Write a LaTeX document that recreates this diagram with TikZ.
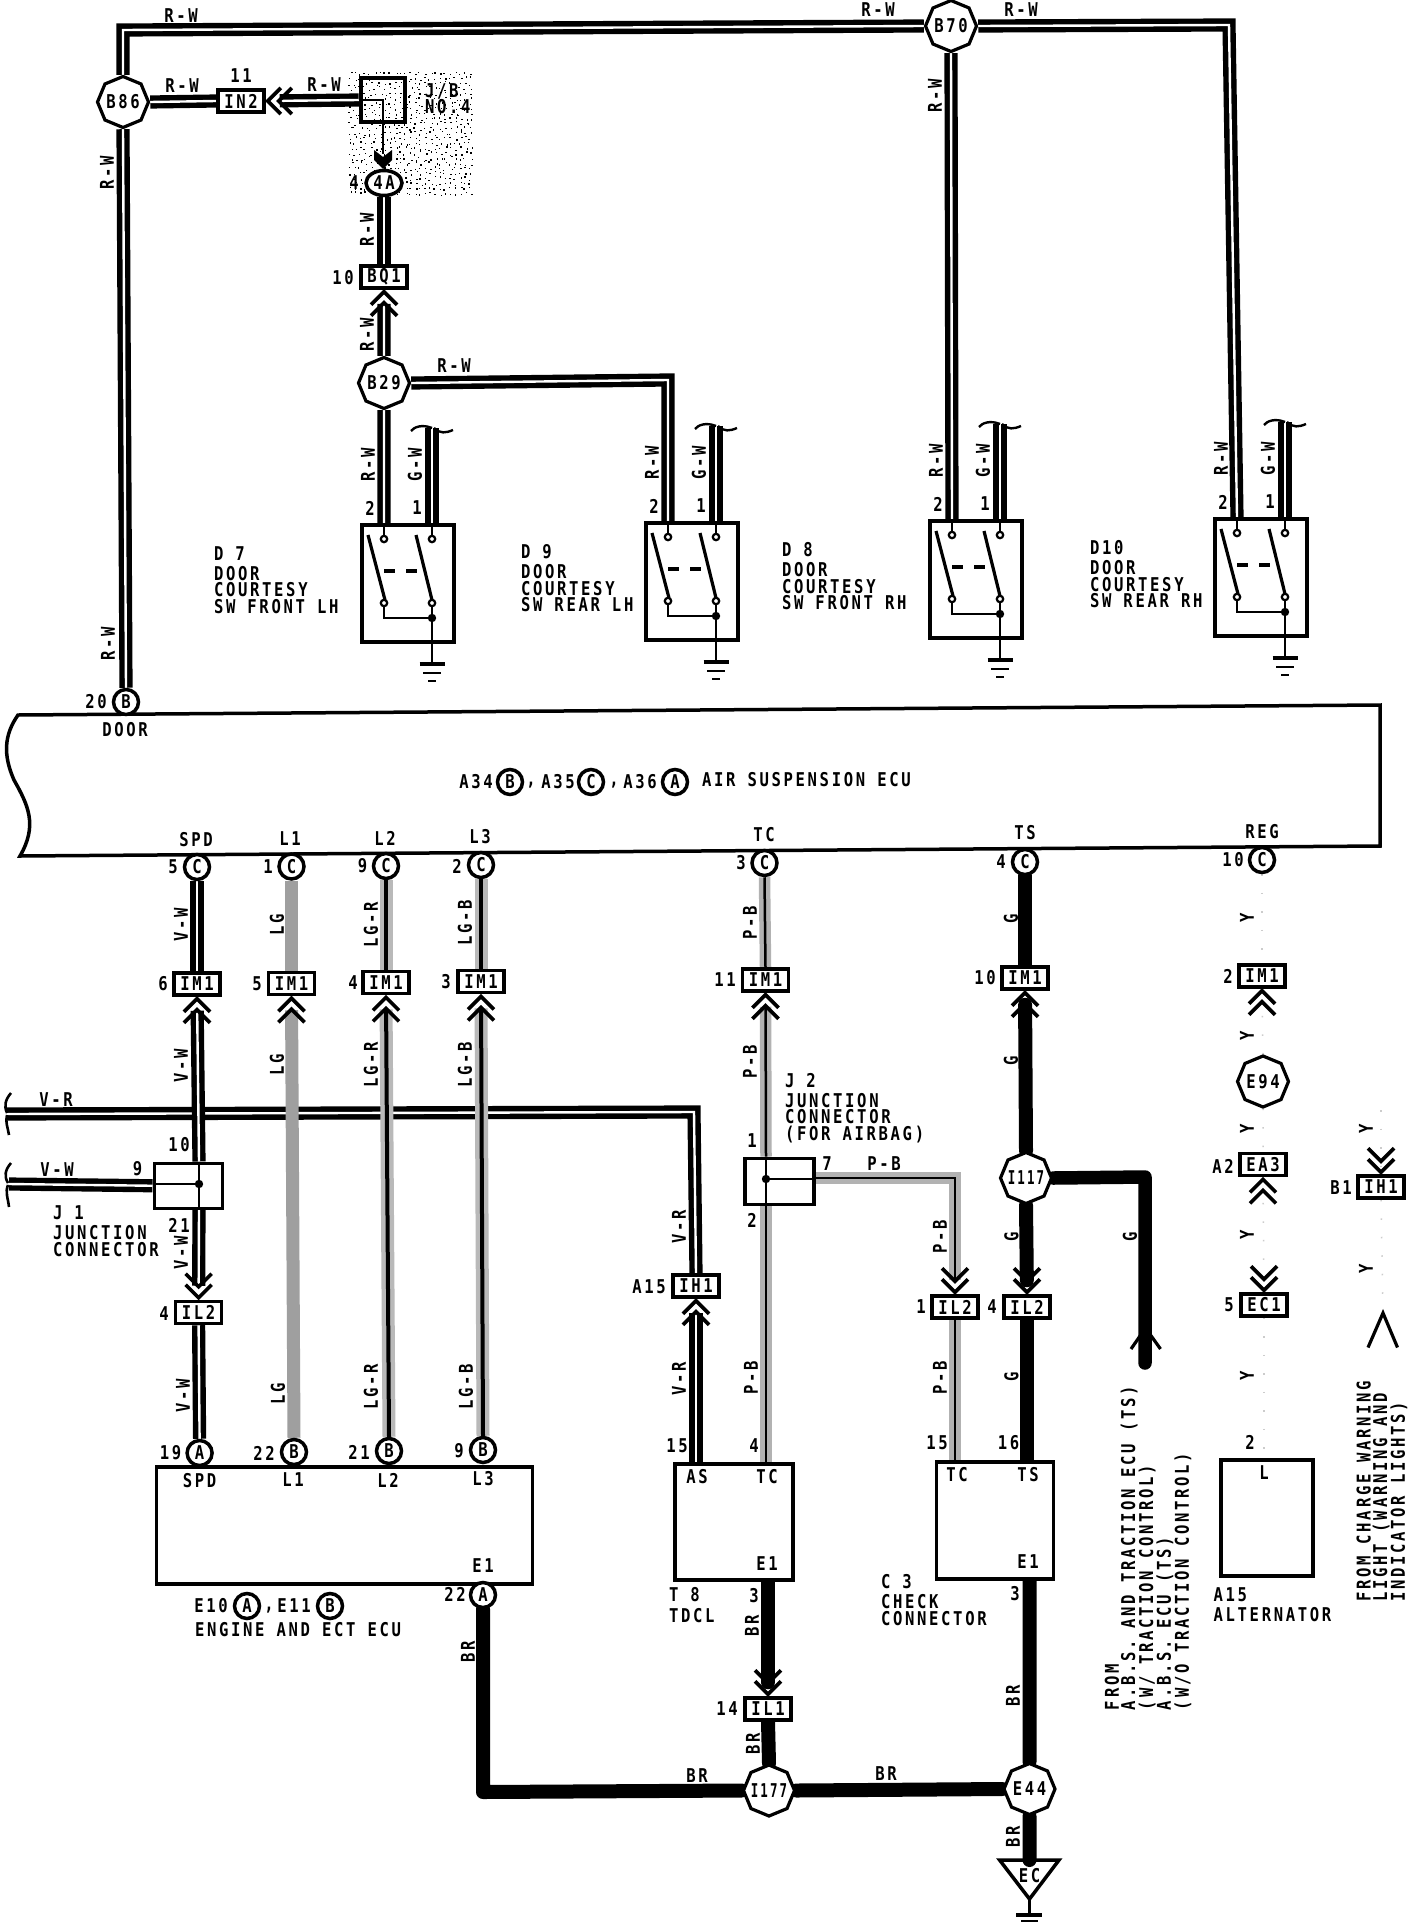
\documentclass[tikz,border=0pt]{standalone}
\usepackage{fontspec}
\setmainfont{DejaVu Sans Mono}[FakeStretch=0.82,LetterSpace=14]
\usetikzlibrary{shapes.geometric,backgrounds}
\newcommand\wdfont{\fontsize{19}{16.3}\selectfont\bfseries}
\newcommand\narrowtxt[1]{\scalebox{0.8}[1]{#1}}
\newcounter{lbl}
\newcommand\HL[3]{\stepcounter{lbl}\node[lab] (t\thelbl) at (#1,#2) {#3};}
\newcommand\VL[3]{\stepcounter{lbl}\node[lab,rotate=90] (t\thelbl) at (#1,#2) {#3};}
% switch: left, top, name
\newcommand\SWITCH[3]{%
 \begin{scope}[shift={(#1,#2)}]
  \node[swbox,anchor=north west] (#3) at (0,0) {};
  \coordinate (#3a) at (24,0);
  \coordinate (#3b) at (72,0);
  \coordinate (#3g) at (72,-95);
  \coordinate (#3j) at (72,95);
  \coordinate (#3e) at (72,141);
  \begin{scope}[on background layer]
   \draw[wire] (#3g) -- (#3b);
  \end{scope}
  \draw[inner] (72,-95) .. controls (62,-99) and (54,-96) .. (51,-92);
  \draw[inner] (74,-95) .. controls (80,-89) and (86,-90) .. (93,-93);
  \draw[inner] (24,0) -- (24,14);
  \draw[inner] (72,0) -- (72,14);
  \draw[blade] (8,12) -- (25,77);
  \draw[blade] (56,12) -- (72,77);
  \draw[blade] (24,48) -- (35,48);
  \draw[blade] (46,48) -- (57,48);
  \draw[inner] (24,82) -- (24,95) -- (#3j);
  \draw[inner] (72,82) -- (#3e);
  \draw[pinc] (24,16) circle (3.2);
  \draw[pinc] (72,16) circle (3.2);
  \draw[pinc] (24,80) circle (3.2);
  \draw[pinc] (72,80) circle (3.2);
  \fill (#3j) circle (4.2);
  \draw[blade] (59.5,141) -- (84.5,141);
  \draw[inner] (63,150) -- (81,150);
  \draw[inner] (68,158) -- (76,158);
  \VL{8}{-58}{R-W}
  \VL{55}{-58}{G-W}
  \HL{10}{-15}{2}
  \HL{57}{-15}{1}
 \end{scope}}
\tikzset{
 x=1pt,y=-1pt,
 lab/.style={font=\wdfont,inner sep=0pt,outer sep=0pt},
 pinbox/.style={draw,line width=3.5,fill=white,minimum width=46,minimum height=22,inner sep=0pt,font=\wdfont},
 conn/.style={circle,draw,line width=3.5,fill=white,minimum size=25,inner sep=-2pt,font=\wdfont},
 octa/.style={regular polygon,regular polygon sides=8,shape border rotate=22.5,draw,fill=white,line width=3.2,minimum size=51,inner sep=-14pt,font=\wdfont},
 swbox/.style={draw,line width=3.5,fill=white,minimum width=92,minimum height=117,inner sep=0pt},
 bigbox/.style={draw,line width=3.5,fill=white,inner sep=0pt,anchor=north west},
 wire/.style={draw=black,double=white,line width=5.4,double distance=2.4},
 lgwire/.style={draw=gray!75,line width=13},
 gwire/.style={draw=gray!55,double=black,line width=4.5,double distance=4},
 pwire/.style={draw=gray!60,double=black,line width=4.5,double distance=2.5},
 fat/.style={draw=black,line width=14,line cap=round},
 ywire/.style={draw=gray!40,line width=1.5,dash pattern=on 1.5 off 17},
 chevline/.style={draw=black,line width=3.6},
 inner/.style={draw=black,line width=2.4},
 blade/.style={draw=black,line width=3.2},
 pinc/.style={draw=black,fill=white,line width=2.2},
 chevu/.pic={\draw[chevline] (-13,15)--(0,2)--(13,15) (-13,26)--(0,13)--(13,26);},
 chevd/.pic={\draw[chevline] (-13,-15)--(0,-2)--(13,-15) (-13,-26)--(0,-13)--(13,-26);},
 chevw/.pic={\draw[chevline] (15,-13)--(2,0)--(15,13) (26,-13)--(13,0)--(26,13);},
}
\begin{document}
\begin{tikzpicture}
\useasboundingbox (0,0) rectangle (1408,1924);
\begin{scope}[on background layer]
 \fill[white] (0,0) rectangle (1408,1924);
 \pgfmathsetseed{7}
 \foreach \i in {0,...,24}{
  \foreach \j in {0,...,24}{
   \pgfmathsetmacro\px{348+\i*5+rnd*4}
   \pgfmathsetmacro\py{71+\j*5+rnd*4}
   \fill[black] (\px,\py) rectangle +(1.3,1.3);
  }
 }
\end{scope}

% ---------- ECU outline
\draw[line width=3.5,fill=white] (18,715) .. controls (4,735) and (3,755) .. (14,780)
  .. controls (28,805) and (38,825) .. (20,856) -- (1380,846) -- (1380,705) -- cycle;

% ---------- splices
\node[octa] (b86) at (123,102) {B86};
\node[octa] (b70) at (951,26) {B70};
\node[octa] (b29) at (384,383) {B29};
\node[octa] (i117) at (1026,1178) {\narrowtxt{I117}};
\node[octa] (e94) at (1263,1081.5) {E94};
\node[octa] (i177) at (769,1790.5) {\narrowtxt{I177}};
\node[octa] (e44) at (1029.5,1789) {E44};

% ---------- top part
\node[pinbox] (in2) at (241,101) {IN2};
\node[draw,line width=4.5,minimum size=44,inner sep=0pt] (jb) at (383,100) {};
\node[ellipse,draw,line width=3.5,fill=white,minimum width=36,minimum height=25,inner sep=-3pt,font=\wdfont] (c4a) at (384,183) {4A};
\node[pinbox] (bq1) at (384,277) {BQ1};

\SWITCH{360}{523}{dseven}
\SWITCH{644}{521}{dnine}
\SWITCH{928}{519}{deight}
\SWITCH{1213}{517}{dten}

% ---------- ECU pins
\node[conn] (cb) at (126,702) {B};
\node[conn] (cspd) at (197,867) {C};
\node[conn] (cl1) at (291.5,866.5) {C};
\node[conn] (cl2) at (386,866) {C};
\node[conn] (cl3) at (481,865) {C};
\node[conn] (ctc) at (764.5,863) {C};
\node[conn] (cts) at (1025,862) {C};
\node[conn] (creg) at (1262,860) {C};
\node[conn] (tb) at (510,782) {B};
\node[conn] (tc) at (591,782) {C};
\node[conn] (ta) at (675,782) {A};

% ---------- IM1 row
\node[pinbox] (imspd) at (197,984) {IM1};
\node[pinbox] (iml1) at (291.5,983.5) {IM1};
\node[pinbox] (iml2) at (386,982.6) {IM1};
\node[pinbox] (iml3) at (481,981.7) {IM1};
\node[pinbox] (imtc) at (765.5,980) {IM1};
\node[pinbox] (imts) at (1025,978) {IM1};
\node[pinbox] (imreg) at (1262,976) {IM1};

% ---------- junction connectors
\node[bigbox,minimum width=68,minimum height=45] (jone) at (152.5,1161.5) {};
\node[bigbox,minimum width=69,minimum height=46] (jtwo) at (743,1156.5) {};
\node[pinbox] (ilj) at (198.6,1312.5) {IL2};
\node[pinbox] (ihaf) at (696,1286) {IH1};
\node[pinbox] (ilpb) at (955,1307) {IL2};
\node[pinbox] (ilts) at (1027,1307) {IL2};
\node[pinbox] (eathree) at (1263,1164.6) {EA3};
\node[pinbox] (econe) at (1264,1305) {EC1};
\node[pinbox] (ihbone) at (1381,1187) {IH1};
\node[pinbox] (ilone) at (768,1709) {IL1};

% ---------- lower boxes
\node[bigbox,minimum width=376,minimum height=117] (etenbox) at (154.5,1465) {};
\node[bigbox,minimum width=118,minimum height=116] (tdcl) at (673,1462) {};
\node[bigbox,minimum width=117,minimum height=117] (cchk) at (934.5,1460) {};
\node[bigbox,minimum width=92,minimum height=116] (alt) at (1219,1458) {};
\node[conn] (aspd) at (199.6,1453) {A};
\node[conn] (bl1) at (294,1452) {B};
\node[conn] (bl2) at (389,1451) {B};
\node[conn] (bl3) at (483,1450) {B};
\node[conn] (ae1) at (483,1595) {A};
\node[conn] (fa) at (247,1606) {A};
\node[conn] (fb) at (330,1606) {B};

% ---------- free ends
\coordinate (k86) at (123,30);
\coordinate (k70) at (1229,25);
\coordinate (k29) at (668,380);
\coordinate (vrl) at (7,1114);
\coordinate (vrk) at (694,1112);
\coordinate (vwl) at (9,1184);
\coordinate (jspd) at (199,1184);
\coordinate (jtc) at (766,1179);
\coordinate (kpb) at (955,1178);
\coordinate (kg) at (1145,1177);
\coordinate (gend) at (1145,1363);
\coordinate (kbr) at (483,1792);
\coordinate (ectop) at (1029.5,1860);
\coordinate (ectip) at (1029.5,1899);
\coordinate (jbk) at (383,154);
\coordinate (altl) at (1264,1456);
\coordinate (chevtop) at (1383,1313);
\coordinate (ybtop) at (1381,1110);

% ---------- wires, under the nodes
\begin{scope}[on background layer]
 \draw[wire] (vrl) -- (vrk) -- (ihaf.north);
 \draw[wire] (b86.north) -- (k86) -- (b70.west);
 \draw[wire] (b70.east) -- (k70) -- (dtena);
 \draw[wire] (b70.south) -- (deighta);
 \draw[wire] (b86.south) -- (cb.north);
 \draw[wire] (b86.east) -- (in2.west);
 \draw[wire,shorten >=14pt] (jb.west) -- (in2.east);
 \draw[wire] (c4a.south) -- (bq1.north);
 \draw[wire,shorten >=14pt] (b29.north) -- (bq1.south);
 \draw[wire] (b29.east) -- (k29) -- (dninea);
 \draw[wire] (b29.south) -- (dsevena);

 \draw[wire] (cspd.south) -- (imspd.north);
 \draw[wire,shorten >=14pt] (jone.north -| jspd) -- (imspd.south);
 \draw[wire,shorten >=14pt] (jone.south -| jspd) -- (ilj.north);
 \draw[wire] (ilj.south) -- (aspd.north);
 \draw[wire] (vwl) -- (jone.west);

 \draw[lgwire] (cl1.south) -- (iml1.north);
 \draw[lgwire,shorten >=14pt] (bl1.north) -- (iml1.south);
 \draw[gwire] (cl2.south) -- (iml2.north);
 \draw[gwire,shorten >=14pt] (bl2.north) -- (iml2.south);
 \draw[gwire] (cl3.south) -- (iml3.north);
 \draw[gwire,shorten >=14pt] (bl3.north) -- (iml3.south);

 \draw[wire,shorten >=14pt] (tdcl.north -| ihaf) -- (ihaf.south);

 \draw[pwire] (ctc.south) -- (imtc.north);
 \draw[pwire,shorten >=14pt] (jtwo.north -| jtc) -- (imtc.south);
 \draw[pwire] (jtwo.south -| jtc) -- (tdcl.north -| jtc);
 \draw[pwire,shorten >=14pt] (jtwo.east |- kpb) -- (kpb) -- (ilpb.north);
 \draw[pwire] (ilpb.south) -- (cchk.north -| ilpb);

 \draw[fat] (cts.south) -- (imts.north);
 \draw[fat,shorten >=14pt] (i117.north) -- (imts.south);
 \draw[fat,shorten >=14pt] (i117.south) -- (ilts.north);
 \draw[fat] (ilts.south) -- (cchk.north -| ilts);
 \draw[fat,line cap=round,line join=round,line width=13.5] (i117.east) -- (kg) -- (gend);
 \draw[fat] (cchk.south -| e44) -- (e44.north);
 \draw[fat] (e44.west) -- (i177.east);
 \draw[fat] (e44.south) -- (ectop);

 \draw[fat,shorten >=14pt] (tdcl.south -| ilone) -- (ilone.north);
 \draw[fat] (ilone.south) -- (i177.north);
 \draw[fat,line join=round] (ae1.south) -- (kbr) -- (i177.west);

 \draw[ywire] (creg.south) -- (imreg.north);
 \draw[ywire,shorten >=14pt] (e94.north) -- (imreg.south);
 \draw[ywire] (e94.south) -- (eathree.north);
 \draw[ywire,shorten <=14pt,shorten >=14pt] (econe.north) -- (eathree.south);
 \draw[ywire] (econe.south) -- (altl);
 \draw[ywire] (ihbone.south) -- (chevtop);
 \draw[ywire] (ybtop) -- (ihbone.north);
\end{scope}

% ---------- cable end ticks
\draw[inner,line width=2.6] (11,1093) .. controls (5,1100) and (4,1106) .. (7,1113);
\draw[inner,line width=2.6] (7,1115) .. controls (5,1122) and (8,1128) .. (9,1135);
\draw[inner,line width=2.6] (11,1163) .. controls (5,1170) and (4,1176) .. (8,1183);
\draw[inner,line width=2.6] (8,1185) .. controls (5,1192) and (8,1198) .. (9,1207);

% ---------- J/B inside
\draw[line width=2] (jb.west) -- (383,100) -- (jbk);
\fill (374,150) -- (383,157) -- (392,150) -- (392,160) -- (383,169) -- (374,160) -- cycle;

% ---------- junction insides
\draw[inner] (jone.west |- jspd) -- (jspd);
\draw[inner] (jone.north -| jspd) -- (jone.south -| jspd);
\fill (jspd) circle (4.2);
\draw[inner] (jtwo.east |- jtc) -- (jtc);
\draw[inner] (jtwo.north -| jtc) -- (jtwo.south -| jtc);
\fill (jtc) circle (4.2);

% ---------- chevrons
\pic at (in2.east) {chevw};
\pic at (bq1.south) {chevu};
\pic at (imspd.south) {chevu};
\pic at (iml1.south) {chevu};
\pic at (iml2.south) {chevu};
\pic at (iml3.south) {chevu};
\pic at (imtc.south) {chevu};
\pic at (imts.south) {chevu};
\pic at (imreg.south) {chevu};
\pic at (ihaf.south) {chevu};
\pic at (eathree.south) {chevu};
\pic at (ilj.north) {chevd};
\pic at (ilpb.north) {chevd};
\pic at (ilts.north) {chevd};
\pic at (ilone.north) {chevd};
\pic at (econe.north) {chevd};
\pic at (ihbone.north) {chevd};
\draw[chevline,line width=3.2] (1131,1349) -- (1145.5,1328) -- (1160.5,1349);
\draw[chevline,line width=3.2] (1368,1347.5) -- (chevtop) -- (1397.5,1347.5);

% ---------- EC ground
\node[lab] (eclabel) at (1029.5,1876) {EC};
\draw[line width=3.5,line join=miter] (999.6,1860) -- (1059,1860) -- (ectip) -- cycle;
\draw[inner] (ectip) -- (1029.5,1915);
\draw[blade] (1016,1915) -- (1042,1915);
\draw[inner] (1021,1921) -- (1038,1921);

% ---------- labels
\HL{181}{16}{R-W}\HL{878}{10}{R-W}\HL{1021}{10}{R-W}
\HL{182}{86}{R-W}\HL{241}{76}{11}\HL{324}{85}{R-W}
\VL{935}{96}{R-W}\VL{107}{173}{R-W}\VL{108}{644}{R-W}
\node[lab,anchor=west,align=left] (ljb) at (425,99) {J/B\\NO.4};
\HL{354}{183}{4}\VL{367}{230}{R-W}\HL{343}{278}{10}\VL{367}{335}{R-W}\HL{454}{366}{R-W}
\HL{96}{702}{20}\HL{125}{730}{DOOR}

\node[lab,anchor=west,align=left] (ldseven) at (214,580) {D 7\\[4pt]DOOR\\COURTESY\\SW FRONT LH};
\node[lab,anchor=west,align=left] (ldnine) at (521,578) {D 9\\[4pt]DOOR\\COURTESY\\SW REAR LH};
\node[lab,anchor=west,align=left] (ldeight) at (782,576) {D 8\\[4pt]DOOR\\COURTESY\\SW FRONT RH};
\node[lab,anchor=west,align=left] (ldten) at (1090,574) {D10\\[4pt]DOOR\\COURTESY\\SW REAR RH};

\HL{476}{782}{A34}\HL{531}{785}{,}\HL{558}{782}{A35}\HL{614}{785}{,}\HL{640}{782}{A36}
\node[lab,anchor=west] (ecutitle) at (702,780) {AIR SUSPENSION ECU};
\HL{196}{840}{SPD}\HL{290}{839}{L1}\HL{385}{838}{L2}\HL{480}{837}{L3}
\HL{764}{835}{TC}\HL{1025}{833}{TS}\HL{1262}{832}{REG}
\HL{173}{867}{5}\HL{268}{866.5}{1}\HL{362.5}{866}{9}\HL{457}{866}{2}
\HL{741}{863}{3}\HL{1001}{862}{4}\HL{1233}{860}{10}
\HL{163}{984}{6}\HL{257}{983.5}{5}\HL{353}{983}{4}\HL{446}{982}{3}
\HL{725}{980}{11}\HL{985}{978}{10}\HL{1228}{976}{2}

\VL{181}{925}{V-W}\VL{181}{1066}{V-W}\VL{181}{1253}{V-W}\VL{183}{1396}{V-W}
\VL{277}{925}{LG}\VL{277}{1065}{LG}\VL{278}{1394}{LG}
\VL{371}{925}{LG-R}\VL{371}{1065}{LG-R}\VL{371}{1387}{LG-R}
\VL{465}{923}{LG-B}\VL{465}{1065}{LG-B}\VL{466}{1387}{LG-B}

\HL{56}{1100}{V-R}\HL{57}{1170}{V-W}\HL{137.5}{1169}{9}\HL{179}{1145}{10}\HL{179}{1225}{21}
\node[lab,anchor=west,align=left] (ljone) at (53,1231) {J 1\\[4pt]JUNCTION\\CONNECTOR};
\HL{164}{1314}{4}
\VL{679}{1227}{V-R}\VL{679}{1379}{V-R}\HL{649}{1287}{A15}

\VL{750}{923}{P-B}\VL{750}{1062}{P-B}\VL{751}{1378}{P-B}
\node[lab,anchor=west,align=left] (ljtwo) at (785,1108) {J 2\\[4pt]JUNCTION\\CONNECTOR\\(FOR AIRBAG)};
\HL{752}{1141}{1}\HL{827}{1164}{7}\HL{884}{1164}{P-B}\HL{752}{1220}{2}
\VL{940}{1236.5}{P-B}\VL{940}{1378}{P-B}\HL{921}{1307}{1}\HL{937}{1443}{15}

\VL{1011}{919}{G}\VL{1011}{1060.5}{G}\VL{1011.5}{1236.5}{G}\VL{1011.5}{1377}{G}\VL{1130}{1236.5}{G}
\HL{992}{1307}{4}\HL{1008.5}{1443}{16}

\VL{1247}{918}{Y}\VL{1247}{1036}{Y}\VL{1247}{1128.6}{Y}\VL{1247}{1235}{Y}\VL{1247}{1376}{Y}
\VL{1366}{1128.6}{Y}\VL{1366}{1269}{Y}
\HL{1223}{1166}{A2}\HL{1229}{1305}{5}\HL{1341}{1187.5}{B1}\HL{1250}{1442.6}{2}

\HL{170.5}{1453}{19}\HL{264}{1453}{22}\HL{359}{1452}{21}\HL{459}{1451}{9}
\HL{199.6}{1481}{SPD}\HL{293}{1480}{L1}\HL{388}{1480}{L2}\HL{483}{1479}{L3}\HL{483}{1565.5}{E1}
\HL{455}{1594}{22}
\HL{211}{1606}{E10}\HL{269}{1610}{,}\HL{294}{1606}{E11}
\node[lab,anchor=west] (lengine) at (195,1630) {ENGINE AND ECT ECU};
\VL{468}{1651.5}{BR}

\HL{677}{1446}{15}\HL{754}{1446}{4}
\HL{697}{1477}{AS}\HL{767}{1477}{TC}\HL{767}{1564}{E1}\HL{754}{1596}{3}
\node[lab,anchor=west,align=left] (ltdcl) at (669,1605) {T 8\\[4pt]TDCL};
\VL{752}{1626}{BR}\VL{753}{1744}{BR}\HL{727}{1709}{14}\HL{697}{1776}{BR}

\HL{957}{1475}{TC}\HL{1028}{1475}{TS}\HL{1028}{1562}{E1}\HL{1015}{1594}{3}
\node[lab,anchor=west,align=left] (lcthree) at (881,1600) {C 3\\[4pt]CHECK\\CONNECTOR};
\VL{1013}{1696}{BR}\HL{886}{1774}{BR}\VL{1013}{1837}{BR}

\HL{1264}{1473}{L}
\node[lab,anchor=west,align=left] (lalt) at (1213.6,1605) {A15\\[4pt]ALTERNATOR};

\node[lab,rotate=90,anchor=west,align=left] (lfromg) at (1148,1710) {FROM\\A.B.S. AND TRACTION ECU (TS)\\(W/ TRACTION CONTROL)\\A.B.S. ECU (TS)\\(W/O TRACTION CONTROL)};
\node[lab,rotate=90,anchor=west,align=left] (lfromy) at (1382,1601.6) {FROM CHARGE WARNING\\LIGHT (WARNING AND\\INDICATOR LIGHTS)};
\end{tikzpicture}
\end{document}
